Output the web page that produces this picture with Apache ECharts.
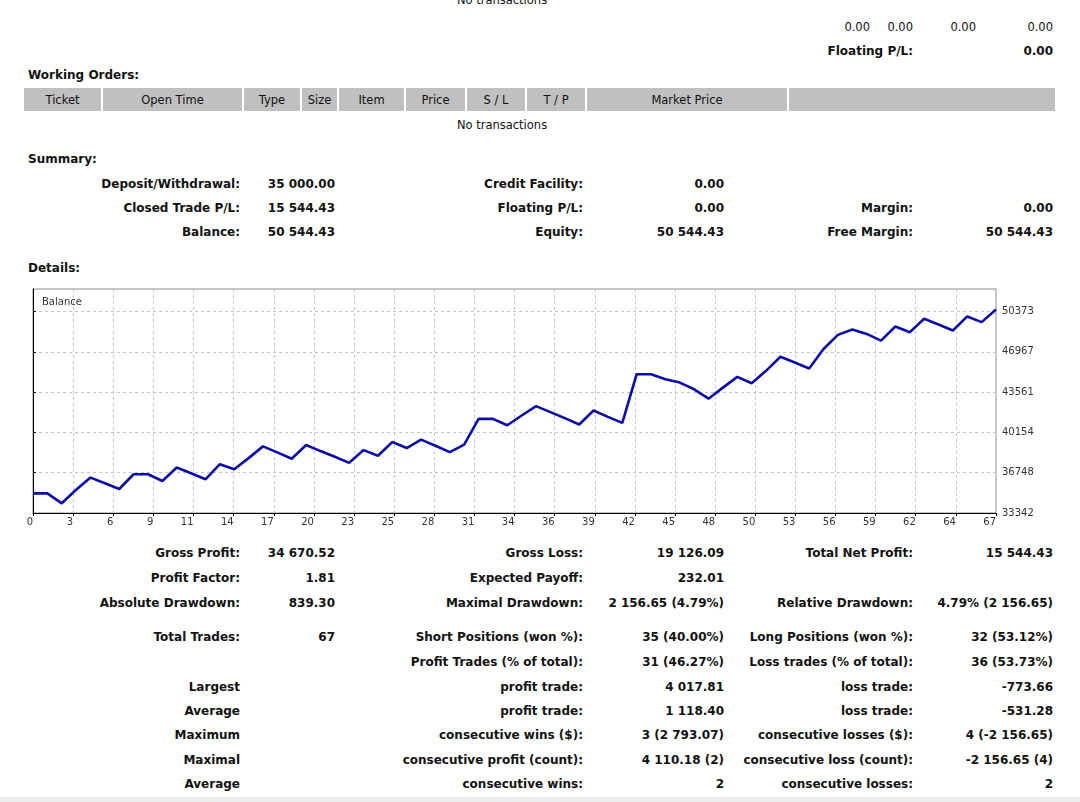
<!DOCTYPE html>
<html>
<head>
<meta charset="utf-8">
<title>Statement</title>
<script src="https://cdn.jsdelivr.net/npm/echarts@6.0.0/dist/echarts.min.js"></script>
<style>
html,body{margin:0;padding:0;background:#fff;}
#page{position:relative;width:1080px;height:802px;overflow:hidden;font-family:"DejaVu Sans",Verdana,sans-serif;font-size:11.5px;color:#111;}
.t{position:absolute;white-space:nowrap;line-height:16px;height:16px;}
.b{font-weight:bold;font-size:12px;}
.hd{position:absolute;top:88px;height:23px;line-height:24px;background:#c0c0c0;text-align:center;font-size:11.5px;color:#111;}
#main{position:absolute;left:0;top:280px;width:1080px;height:260px;}
#foot{position:absolute;left:0;top:797px;width:1080px;height:5px;background:#ececec;}
</style>
</head>
<body>
<div id="page">
  <div id="main"></div>
  <div id="foot"></div>
</div>
<script>
// balance after each trade (0 = deposit)
var balance = [
  35000, 35000, 34161, 35313, 36334, 35852, 35370, 36618, 36618, 36051,
  37186, 36703, 36192, 37470, 37044, 37981, 38974, 38463, 37924, 39088,
  38577, 38094, 37583, 38660, 38180, 39343, 38832, 39542, 39031, 38492,
  39116, 41302, 41302, 40763, 41586, 42380, 41870, 41359, 40820, 42011,
  41472, 40961, 45077, 45077, 44650, 44367, 43800, 43005, 43942, 44850,
  44311, 45361, 46553, 46071, 45560, 47206, 48398, 48852, 48483, 47916,
  49108, 48625, 49761, 49278, 48767, 49959, 49477, 50544
];
var xLabels = ['0','3','6','9','11','14','17','20','23','25','28','31','34','36','39','42','45','48','50','53','56','59','62','64','67'];
var yTicks = [33342, 36748, 40154, 43561, 46967, 50373];
var yMin = 33342, yMax = 52279;

// report text
var headCells = [
  ['Ticket', 24, 103], ['Open Time', 103, 244], ['Type', 244, 302], ['Size', 302, 339],
  ['Item', 339, 406], ['Price', 406, 467], ['S / L', 467, 527], ['T / P', 527, 587],
  ['Market Price', 587, 789], ['', 789, 1057]
];
var summaryRows = [
  [183, 'Deposit/Withdrawal:', '35 000.00', 'Credit Facility:', '0.00', '', ''],
  [207, 'Closed Trade P/L:', '15 544.43', 'Floating P/L:', '0.00', 'Margin:', '0.00'],
  [231, 'Balance:', '50 544.43', 'Equity:', '50 544.43', 'Free Margin:', '50 544.43']
];
var statRows = [
  [552, 'Gross Profit:', '34 670.52', 'Gross Loss:', '19 126.09', 'Total Net Profit:', '15 544.43'],
  [577, 'Profit Factor:', '1.81', 'Expected Payoff:', '232.01', '', ''],
  [602, 'Absolute Drawdown:', '839.30', 'Maximal Drawdown:', '2 156.65 (4.79%)', 'Relative Drawdown:', '4.79% (2 156.65)'],
  [636, 'Total Trades:', '67', 'Short Positions (won %):', '35 (40.00%)', 'Long Positions (won %):', '32 (53.12%)'],
  [661, '', '', 'Profit Trades (% of total):', '31 (46.27%)', 'Loss trades (% of total):', '36 (53.73%)'],
  [686, 'Largest', '', 'profit trade:', '4 017.81', 'loss trade:', '-773.66'],
  [710, 'Average', '', 'profit trade:', '1 118.40', 'loss trade:', '-531.28'],
  [734, 'Maximum', '', 'consecutive wins ($):', '3 (2 793.07)', 'consecutive losses ($):', '4 (-2 156.65)'],
  [759, 'Maximal', '', 'consecutive profit (count):', '4 110.18 (2)', 'consecutive loss (count):', '-2 156.65 (4)'],
  [783, 'Average', '', 'consecutive wins:', '2', 'consecutive losses:', '2']
];

var page = document.getElementById('page');
function put(txt, x, y, align, bold) {
  if (!txt) return;
  var d = document.createElement('div');
  d.className = 't' + (bold ? ' b' : '');
  d.textContent = txt;
  d.style.top = (y - 7) + 'px';
  if (align == 'r') {
    d.style.right = (1080 - x) + 'px';
  } else if (align == 'c') {
    d.style.left = (x - 200) + 'px';
    d.style.width = '400px';
    d.style.textAlign = 'center';
  } else {
    d.style.left = x + 'px';
  }
  page.appendChild(d);
}

put('No transactions', 502, -1, 'c');
put('0.00', 870, 26, 'r');
put('0.00', 913, 26, 'r');
put('0.00', 976, 26, 'r');
put('0.00', 1053, 26, 'r');
put('Floating P/L:', 913, 50, 'r', true);
put('0.00', 1053, 50, 'r', true);
put('Working Orders:', 28, 74, 'l', true);
headCells.forEach(function (c) {
  var d = document.createElement('div');
  d.className = 'hd';
  d.textContent = c[0];
  d.style.left = c[1] + 'px';
  d.style.width = (c[2] - c[1] - 2) + 'px';
  page.appendChild(d);
});
put('No transactions', 502, 124, 'c');
put('Summary:', 28, 158, 'l', true);
summaryRows.forEach(function (r) {
  put(r[1], 240, r[0], 'r', true);
  put(r[2], 335, r[0], 'r', true);
  put(r[3], 583, r[0], 'r', true);
  put(r[4], 724, r[0], 'r', true);
  put(r[5], 913, r[0], 'r', true);
  put(r[6], 1053, r[0], 'r', true);
});
put('Details:', 28, 267, 'l', true);
statRows.forEach(function (r) {
  put(r[1], 240, r[0], 'r', true);
  put(r[2], 335, r[0], 'r', true);
  put(r[3], 583, r[0], 'r', true);
  put(r[4], 724, r[0], 'r', true);
  put(r[5], 913, r[0], 'r', true);
  put(r[6], 1053, r[0], 'r', true);
});

// balance chart
var dom = document.getElementById('main');
var myChart = echarts.init(dom);
var step = 67 / (xLabels.length - 1);
var points = balance.map(function (v, i) { return [i, v]; });
var gridLine = { lineStyle: { type: [3, 3], color: '#c6c6c6', width: 1 } };

var option = {
  animation: false,
  title: {
    text: 'Balance', left: 37, top: 12,
    textStyle: { fontSize: 10, fontWeight: 'normal', color: '#333', fontFamily: 'DejaVu Sans' }
  },
  grid: { left: 33, right: 84, top: 9, bottom: 27, show: true, borderColor: '#8c8c8c', borderWidth: 1 },
  xAxis: {
    type: 'value', min: 0, max: 67, interval: step,
    axisLine: { lineStyle: { color: '#000', width: 1 } },
    axisTick: { show: true, length: 3, lineStyle: { color: '#000' } },
    axisLabel: {
      fontSize: 10, color: '#333', margin: 4, align: 'right', fontFamily: 'DejaVu Sans',
      formatter: function (v) { return xLabels[Math.round(v / step)]; }
    },
    splitLine: gridLine
  },
  yAxis: {
    type: 'value', position: 'right', min: yMin, max: yMax,
    axisLine: { show: true, lineStyle: { color: '#000', width: 1 } },
    axisTick: { show: true, length: 3, customValues: yTicks, lineStyle: { color: '#000' } },
    axisLabel: {
      customValues: yTicks, fontSize: 10, color: '#333', margin: 6, fontFamily: 'DejaVu Sans',
      formatter: function (v) { return String(v); }
    },
    splitLine: gridLine
  },
  series: [{
    name: 'Balance',
    type: 'line',
    data: points,
    showSymbol: false,
    silent: true,
    lineStyle: { color: '#0c0ca8', width: 2.6 }
  }]
};

if (option && typeof option === "object") {
  myChart.setOption(option, true);
}
</script>
</body>
</html>
